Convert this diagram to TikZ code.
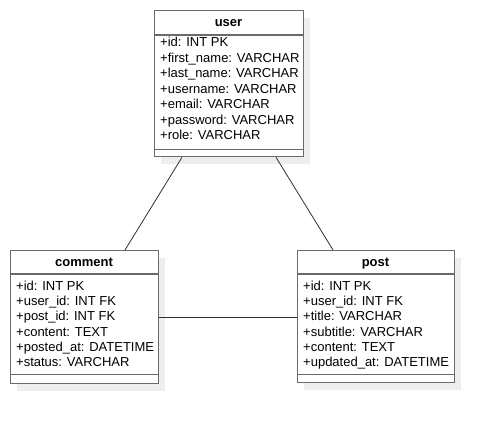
\documentclass[tikz,border=0pt]{standalone}
\usepackage{fontspec}
\setmainfont{Liberation Sans}
\usetikzlibrary{shadows}
\definecolor{boxgray}{HTML}{6A6A6A}
\definecolor{linegray}{HTML}{303030}
\definecolor{shadowgray}{HTML}{EEEEEE}
\begin{document}
\begin{tikzpicture}[x=1pt,y=-1pt,
  tbl/.style={draw=boxgray, line width=1.3pt, fill=white, anchor=north west, inner sep=0pt,
    drop shadow={shadow xshift=6pt, shadow yshift=-7pt, fill=shadowgray, opacity=1}},
  sep/.style={draw=boxgray, line width=1.3pt},
  title/.style={font=\fontsize{13}{15}\selectfont\bfseries, inner sep=0pt, anchor=base},
  attr/.style={font=\fontsize{13}{15}\selectfont, inner sep=0pt, anchor=base west},
  link/.style={draw=linegray, line width=0.8pt}]
\useasboundingbox (0,0) rectangle (494,422);
% user
\node[tbl, minimum width=149pt, minimum height=146pt] (user) at (154,10) {};
\draw[sep] ([yshift=-25pt]user.north west) -- ([yshift=-25pt]user.north east);
\draw[sep] ([yshift=8pt]user.south west) -- ([yshift=8pt]user.south east);
\node[title] (user-t) at (228.5,26.6) {user};
\node[attr] (user-1) at (160,46.8) {+id: INT PK};
\node[attr] (user-2) at (160,62.25) {+first\_name: VARCHAR};
\node[attr] (user-3) at (160,77.7) {+last\_name: VARCHAR};
\node[attr] (user-4) at (160,93.15) {+username: VARCHAR};
\node[attr] (user-5) at (160,108.6) {+email: VARCHAR};
\node[attr] (user-6) at (160,124.05) {+password: VARCHAR};
\node[attr] (user-7) at (160,139.5) {+role: VARCHAR};
% comment
\node[tbl, minimum width=148pt, minimum height=133pt] (comment) at (10,250) {};
\draw[sep] ([yshift=-24pt]comment.north west) -- ([yshift=-24pt]comment.north east);
\draw[sep] ([yshift=10pt]comment.south west) -- ([yshift=10pt]comment.south east);
\node[title] (comment-t) at (84,266.6) {comment};
\node[attr] (comment-1) at (16,290.4) {+id: INT PK};
\node[attr] (comment-2) at (16,305.6) {+user\_id: INT FK};
\node[attr] (comment-3) at (16,320.8) {+post\_id: INT FK};
\node[attr] (comment-4) at (16,336.0) {+content: TEXT};
\node[attr] (comment-5) at (16,351.2) {+posted\_at: DATETIME};
\node[attr] (comment-6) at (16,366.4) {+status: VARCHAR};
% post
\node[tbl, minimum width=157pt, minimum height=132pt] (post) at (297,250) {};
\draw[sep] ([yshift=-24pt]post.north west) -- ([yshift=-24pt]post.north east);
\draw[sep] ([yshift=9pt]post.south west) -- ([yshift=9pt]post.south east);
\node[title] (post-t) at (375.5,266.6) {post};
\node[attr] (post-1) at (303,290.4) {+id: INT PK};
\node[attr] (post-2) at (303,305.6) {+user\_id: INT FK};
\node[attr] (post-3) at (303,320.8) {+title: VARCHAR};
\node[attr] (post-4) at (303,336.0) {+subtitle: VARCHAR};
\node[attr] (post-5) at (303,351.2) {+content: TEXT};
\node[attr] (post-6) at (303,366.4) {+updated\_at: DATETIME};
% connectors
\draw[link] ([xshift=28pt]user.south west) -- ([xshift=115pt]comment.north west);
\draw[link] ([xshift=122pt]user.south west) -- ([xshift=36pt]post.north west);
\draw[link] (comment.east) -- (comment.east -| post.west);
\end{tikzpicture}
\end{document}
